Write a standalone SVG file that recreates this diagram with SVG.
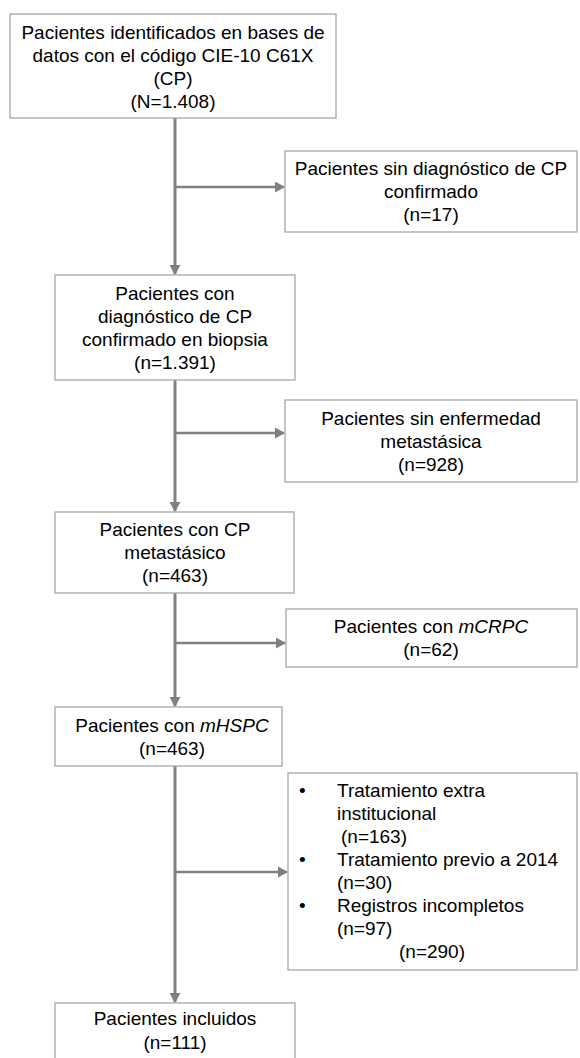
<svg xmlns="http://www.w3.org/2000/svg" width="580" height="1058" viewBox="0 0 580 1058">
<defs>
<style>
.box{fill:#ffffff;stroke:#a6a6a6;stroke-width:1.3}
.t{font-family:"Liberation Sans",Arial,sans-serif;font-size:19px;fill:#000000;text-anchor:middle}
.l{font-family:"Liberation Sans",Arial,sans-serif;font-size:19px;fill:#000000}
.trunk{stroke:#808080;stroke-width:3;fill:none}
.branch{stroke:#808080;stroke-width:2.5;fill:none}
</style>
<marker id="ah" markerUnits="userSpaceOnUse" markerWidth="10" markerHeight="11" refX="9" refY="5.5" orient="auto">
<path d="M0,0 L10,5.5 L0,11 Z" fill="#808080"/>
</marker>
</defs>
<rect width="580" height="1058" fill="#ffffff"/>
<g id="connectors">
<line class="trunk" x1="175" y1="118" x2="175" y2="274" marker-end="url(#ah)"/>
<line class="trunk" x1="175" y1="380" x2="175" y2="511" marker-end="url(#ah)"/>
<line class="trunk" x1="175" y1="593" x2="175" y2="706" marker-end="url(#ah)"/>
<line class="trunk" x1="175" y1="766" x2="175" y2="1002" marker-end="url(#ah)"/>
<line class="branch" x1="175" y1="187" x2="284" y2="187" marker-end="url(#ah)"/>
<line class="branch" x1="175" y1="433" x2="284" y2="433" marker-end="url(#ah)"/>
<line class="branch" x1="175" y1="643" x2="285" y2="643" marker-end="url(#ah)"/>
<line class="branch" x1="175" y1="872" x2="287" y2="872" marker-end="url(#ah)"/>
</g>
<g id="n1">
<rect class="box" x="10" y="14" width="326" height="104"/>
<text class="t" x="173" y="38.5">Pacientes identificados en bases de</text>
<text class="t" x="173" y="61.5">datos con el código CIE-10 C61X</text>
<text class="t" x="173" y="84.5">(CP)</text>
<text class="t" x="173" y="107.5">(N=1.408)</text>
</g>
<g id="n2">
<rect class="box" x="285" y="151" width="292" height="81"/>
<text class="t" x="431" y="175">Pacientes sin diagnóstico de CP</text>
<text class="t" x="431" y="198">confirmado</text>
<text class="t" x="431" y="221">(n=17)</text>
</g>
<g id="n3">
<rect class="box" x="55" y="275" width="240" height="105"/>
<text class="t" x="175" y="300">Pacientes con</text>
<text class="t" x="175" y="323">diagnóstico de CP</text>
<text class="t" x="175" y="346">confirmado en biopsia</text>
<text class="t" x="175" y="369">(n=1.391)</text>
</g>
<g id="n4">
<rect class="box" x="285" y="400" width="292" height="82"/>
<text class="t" x="431" y="425">Pacientes sin enfermedad</text>
<text class="t" x="431" y="448">metastásica</text>
<text class="t" x="431" y="471">(n=928)</text>
</g>
<g id="n5">
<rect class="box" x="55" y="512" width="239" height="81"/>
<text class="t" x="175" y="536">Pacientes con CP</text>
<text class="t" x="175" y="559">metastásico</text>
<text class="t" x="175" y="582">(n=463)</text>
</g>
<g id="n6">
<rect class="box" x="286" y="609" width="291" height="58"/>
<text class="t" x="431" y="633">Pacientes con <tspan font-style="italic">mCRPC</tspan></text>
<text class="t" x="431" y="656">(n=62)</text>
</g>
<g id="n7">
<rect class="box" x="55" y="707" width="227" height="59"/>
<text class="t" x="172" y="732">Pacientes con <tspan font-style="italic">mHSPC</tspan></text>
<text class="t" x="172" y="755">(n=463)</text>
</g>
<g id="n8">
<rect class="box" x="288" y="773" width="289" height="197"/>
<text class="l" x="299" y="797">•</text>
<text class="l" x="337" y="797">Tratamiento extra</text>
<text class="l" x="337" y="820">institucional</text>
<text class="l" x="341" y="843">(n=163)</text>
<text class="l" x="299" y="866">•</text>
<text class="l" x="337" y="866">Tratamiento previo a 2014</text>
<text class="l" x="337" y="889">(n=30)</text>
<text class="l" x="299" y="912">•</text>
<text class="l" x="337" y="912">Registros incompletos</text>
<text class="l" x="337" y="935">(n=97)</text>
<text class="t" x="432" y="958">(n=290)</text>
</g>
<g id="n9">
<rect class="box" x="55" y="1003" width="240" height="70"/>
<text class="t" x="175" y="1025">Pacientes incluidos</text>
<text class="t" x="175" y="1049">(n=111)</text>
</g>
</svg>
